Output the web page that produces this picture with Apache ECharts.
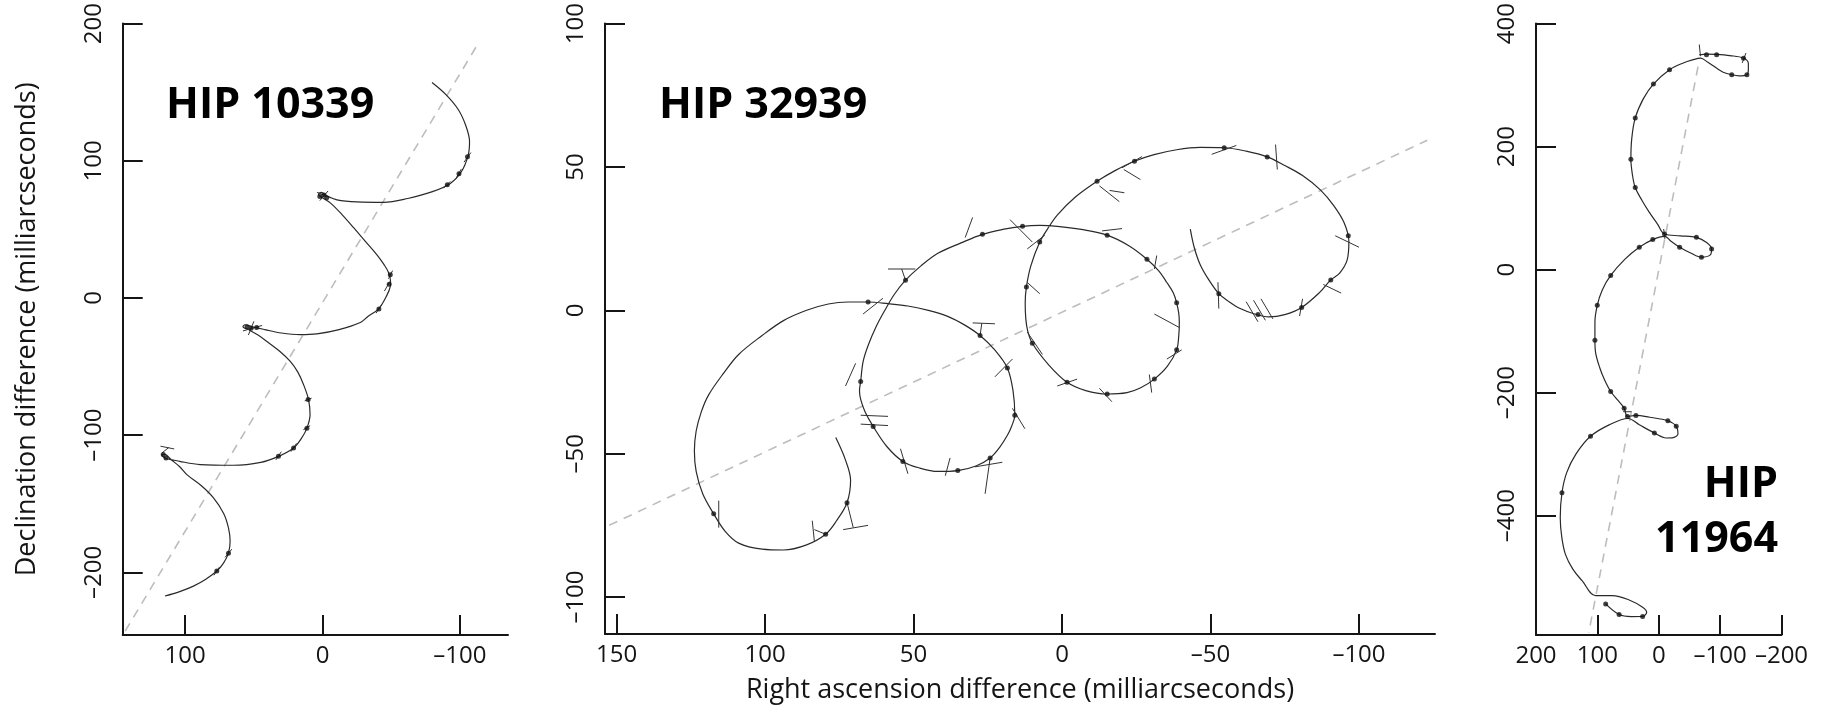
<!DOCTYPE html>
<html>
<head>
<meta charset="utf-8">
<script src="https://cdn.jsdelivr.net/npm/echarts@6/dist/echarts.min.js"></script>
<style>
html,body{margin:0;padding:0;background:#fff;}
#chart{width:1830px;height:709px;}
</style>
</head>
<body>
<div id="chart"></div>
<script>
// ---------- DATA (milliarcseconds: [RA difference, Dec difference]) ----------
const titles = ['HIP 10339', 'HIP 32939', 'HIP', '11964'];
const xAxisTitle = 'Right ascension difference (milliarcseconds)';
const yAxisTitle = 'Declination difference (milliarcseconds)';

const ticksX1 = [100, 0, -100];
const ticksY1 = [-200, -100, 0, 100, 200];
const ticksX2 = [150, 100, 50, 0, -50, -100];
const ticksY2 = [-100, -50, 0, 50, 100];
const ticksX3 = [200, 100, 0, -100, -200];
const ticksY3 = [-400, -200, 0, 200, 400];

// HIP 10339
const path1 = [
  [-79.7,157],[-90,148],[-99,137],[-104.5,125],[-107,114],[-106,104],[-101,92],[-93,83.5],[-80,77.5],
  [-62,72.5],[-44.5,69.7],[-25,70],[-10.5,71.5],[-3,74.5],[1,77],[3,75.5],[0,73],[-6,69],[-14,61],
  [-22.6,51.3],[-31,41.5],[-39.6,31.5],[-45,24],[-48.1,18.4],[-49.5,12],[-49.3,8.5],[-46.8,1.9],
  [-40.8,-7.9],[-33,-13.5],[-27.5,-17.8],[-12,-23],[4.1,-26.1],[16.3,-26.7],[30,-25.5],[42,-23],
  [51,-21],[56.5,-19.5],[58,-21],[54,-23],[47,-27],[40.5,-31.7],[31,-39],[23.5,-46.2],[18,-54],
  [13.8,-63.2],[10.2,-74.1],[9.1,-85],[11.4,-94.8],[15.5,-102.5],[21.1,-109.3],[32.1,-115.4],
  [45,-119.8],[64.9,-121.9],[89.1,-121.4],[104,-119],[114.7,-116.6],[117,-114.5],[115,-114],
  [110,-118],[104,-123],[98.8,-128.7],[88,-137],[79.4,-145.7],[72,-157],[68.5,-167.5],[67.3,-177.2],
  [68.5,-185.7],[72,-193],[77,-199],[85,-205],[94,-210],[104,-214],[114.7,-217.2]
];
const marks1 = [
  [-105.5,103],[-99.3,90.5],[-90.8,82.5],[-1,75],[2,74],[-3,73],[-49.3,17],[-48.5,10],[-41,-8],
  [55,-21],[52,-22],[48,-21.5],[10.5,-74],[11.4,-95],[21.1,-109.3],[32.1,-115.4],[114,-116.6],
  [116,-114],[68.5,-186],[77,-199]
];
const bars1 = [
  [-103,99,-108,106],[-97,87,-101,94],[-88,80,-93,85],[-48,14,-51,20],[-45,5,-49,12],[-39,-11,-43,-5],
  [112,-109,117,-113],[108,-110,118,-108],[66,-183,71,-189],[75,-196,79,-202],[8,-73,13,-75],
  [9,-93,14,-96],[19,-106,23,-112],[30,-112,34,-118],[-6,73,4,77],[-4,78,2,71],[44,-20,58,-24],[50,-17,54,-27]
];
const trend1 = [[143.7,-242.7],[-113.6,186]];

// HIP 32939
const path2 = [
  [76.2,-44.4],[73,-52],[71.2,-59.3],[72.4,-67.1],[76,-73.5],[79.6,-78.1],[86,-81.8],[93.8,-83.6],
  [101,-83.3],[108.9,-81.2],[113.5,-77],[117.3,-71],[121,-64],[123.2,-56.2],[123.8,-49],[123.2,-42.1],
  [121.5,-35.5],[119,-29.5],[114,-22],[108.9,-15.4],[101,-8.8],[93.8,-3.6],[86,0],[78.7,2.2],[72,2.9],
  [65.3,2.9],[58.5,2.3],[51.9,1.5],[45,0],[38.5,-2.1],[33,-5],[27.6,-8.8],[22.5,-14],[18.4,-20.1],
  [16.5,-28],[15.9,-36.6],[17,-40.5],[18.4,-43.6],[21,-47.8],[24.2,-51.5],[29,-54.3],[35.1,-55.9],
  [41.8,-56.2],[48,-55],[53.6,-52.7],[59,-47.5],[63.6,-40.5],[66.3,-35.5],[67.8,-31.1],[68.2,-28],
  [67.8,-24.8],[67,-18],[65.3,-12.3],[62.5,-5.5],[59.5,0.3],[56.5,5.5],[52.7,10.5],[47.5,15.5],
  [41.8,19.9],[34,23.5],[26.8,26.5],[20,28.2],[13.3,29.3],[7.5,29.6],[1.6,29.3],[-6.5,28.2],
  [-15.2,26.2],[-22.5,22.5],[-28.6,17.8],[-32.5,13.8],[-35.3,9.7],[-37.5,6],[-38.6,2.6],[-39.3,-1],
  [-39.5,-4.4],[-39.3,-9],[-38.6,-13.8],[-35.5,-19.5],[-31.1,-24],[-26.5,-27],[-21.9,-28.7],
  [-15.2,-29.2],[-8,-28],[-1.7,-25.1],[4.5,-19],[10,-11.5],[11.6,-7],[12.2,-2.9],[12.4,2.5],[12,8.1],
  [10.5,15.5],[7.5,23.8],[4.8,28.5],[1.6,33.2],[-4.5,39.5],[-11.8,45],[-18,48.8],[-24.4,52],
  [-31,54.3],[-38.6,56],[-46.5,56.8],[-54.6,56.7],[-62,55.5],[-69.1,53.5],[-75,50.5],[-81,47],
  [-87,42],[-91.5,36.5],[-95,30.5],[-96.6,24],[-96,17.5],[-93.5,13],[-90.5,10.6],[-87,6.5],
  [-80.7,1],[-75,-1.5],[-69.6,-2.3],[-64.6,-1.2],[-60,0.6],[-56,3.2],[-52.8,5.8],[-49.5,10.5],
  [-46.5,16],[-44.5,22],[-43.2,28.3]
];
const marks2 = [
  [72.4,-67.1],[79.6,-78.1],[117.3,-71],[65.3,2.9],[27.6,-8.8],[18.4,-20.1],[15.9,-36.6],[24.2,-51.5],
  [35.1,-55.9],[53.6,-52.7],[63.6,-40.5],[67.8,-24.8],[52.7,10.5],[26.8,26.5],[13.3,29.3],[-15.2,26.2],
  [-28.6,17.8],[-38.6,2.6],[-38.6,-13.8],[-31.1,-24],[-15.2,-29.2],[-1.7,-25.1],[10,-11.5],[12,8.1],
  [7.5,23.8],[-11.8,45],[-24.4,52],[-54.6,56.7],[-69.1,53.5],[-96.4,26],[-90.5,10.6],[-80.7,1],
  [-66,-1.5],[-52.8,5.8]
];
const bars2 = [
  [72.4,-67.1,70.3,-75.8],[73.7,-76.5,65.3,-75],[84.1,-73.4,83.4,-80.5],[83.4,-76.5,79.6,-78.1],
  [115.6,-66.4,115.6,-75.8],[67,-1.3,60.3,4.2],[30.1,-4.4,22.6,-4.7],[27.6,-8.8,27,-4.5],
  [22.6,-23.2,16.7,-17],[16.7,-34.2,12.5,-41.3],[29.3,-54.6,20.1,-53],[24.2,-51.5,25.9,-64],
  [39.3,-57.7,37.7,-51.5],[54.4,-48.3,51.9,-57],[67.8,-36.6,58.6,-37],[67.8,-39.7,58.6,-40.2],
  [72.9,-26.4,69.5,-18.5],[58.6,14.4,49.4,14.4],[52.7,10.5,54,14.4],[32.6,25.4,30.1,32.4],
  [17.5,31.6,10,23.8],[-13.5,27.7,-20.2,28.5],[-31.9,19.1,-31.1,14.4],[-31.1,-1.3,-39.5,-6],
  [-35.3,-17,-40.3,-13.8],[-29.4,-22.4,-30.2,-28.7],[-12.6,-27.2,-16.8,-31.9],[1.6,-26.4,-5.1,-24],
  [11.7,-7.6,6.6,-15.4],[11.7,9.7,7.5,5.8],[11.7,21.4,5.8,26.2],[-12.6,43.4,-19.3,37.9],
  [-16,41.8,-21,41],[-20.2,49.7,-26.9,53.6],[-20.8,49.1,-26.4,45.6],[-50.4,54.4,-58.7,57.5],
  [-71.9,57.8,-72.5,49.1],[-52.5,9.8,-52.8,0.6],[-62,3,-66,-4],[-64.5,3.5,-68.5,-3.5],
  [-67,4,-71,-3],[-92,26,-100,22],[-88,9,-94,6],[-80,-2,-81,4]
];
const trend2 = [[152.5,-75],[-123,59.3]];

// HIP 11964
const path3 = [
  [-66,349],[-78,350.5],[-94,350],[-116,348],[-138,344],[-146,335],[-146,325],[-143.6,317],[-131,315],
  [-119,316.8],[-105,321],[-94,327.6],[-80,337],[-68,344],[-55,341],[-40,336],[-17.6,325],[8.7,301.7],
  [25,278],[38.3,246.7],[44,213],[45.4,179.3],[43,155],[38.3,133.4],[27,112],[15.3,93],[2,74],
  [-9.4,57.9],[-35,55],[-61.4,52.5],[-78,44],[-86.1,33.6],[-84,24],[-69.6,20.2],[-52,27],[-34,36.3],
  [-20,46],[-10,54],[9.8,48.8],[31.7,36.3],[55,17],[78.3,-9.5],[92,-33],[100.2,-58.1],[104,-86],
  [104,-114.7],[102.9,-135],[96,-160],[88,-180],[78.3,-198.2],[66,-213],[56.4,-225.2],[50.9,-238.7],
  [37.2,-237],[15,-240],[-14.8,-245.7],[-28.5,-254.8],[-31.3,-267.3],[-22,-273.5],[-12.1,-273.7],
  [7.1,-265.6],[31.7,-252.2],[50,-242],[80,-252],[111.2,-271],[135,-300],[150,-330],[157.7,-362.7],
  [160.5,-403.2],[158,-435],[152.2,-462.5],[140,-487],[124.9,-505.7],[102.9,-530],[75.5,-530],
  [48.2,-537],[26.3,-548.8],[19.7,-556.9],[26.3,-563.9],[45,-564],[64.6,-560.7],[86.5,-543.4]
];
const marks3 = [
  [-77.8,349.2],[-94.3,349.2],[-138.1,343.8],[-143.6,316.8],[-118.9,316.8],[-17.6,324.9],[8.7,301.7],
  [38.3,246.7],[45.4,179.3],[38.3,133.4],[-9.4,57.9],[-61.4,52.5],[-86.1,33.6],[-69.6,20.2],[-34,36.3],
  [9.8,48.8],[31.7,36.3],[78.3,-9.5],[100.2,-58.1],[104,-114.7],[78.3,-198.2],[56.4,-225.2],
  [50.9,-238.7],[37.2,-237],[-14.8,-245.7],[-28.5,-254.8],[7.1,-265.6],[111.2,-271],[157.7,-362.7],
  [86.5,-543.4],[64.6,-560.7],[26.3,-563.9]
];
const bars3 = [[-66,366,-68,347],[-136,336,-142,352],[-10,50,-8,66],[58,-231,44,-231]];
const trend3 = [[-64,330],[114,-590]];

// ---------- CHART ----------
const FONT = '"Open Sans", "Noto Sans", sans-serif';
const INK = '#151515';
const fmt = v => (v < 0 ? '\u2013' + Math.abs(v) : String(v));

function xAx(idx, min, max, ticks, extra) {
  return Object.assign({
    gridIndex: idx, type: 'value', inverse: true, min: min, max: max,
    axisLine: {show: true, onZero: false, lineStyle: {color: INK, width: 2}},
    axisTick: {show: true, inside: true, length: 20, customValues: ticks, lineStyle: {color: INK, width: 2}},
    axisLabel: {customValues: ticks, formatter: fmt, fontFamily: FONT, fontSize: 24, color: INK, margin: 9},
    splitLine: {show: false}
  }, extra || {});
}
function yAx(idx, min, max, ticks, extra) {
  return Object.assign({
    gridIndex: idx, type: 'value', min: min, max: max,
    axisLine: {show: true, onZero: false, lineStyle: {color: INK, width: 2}},
    axisTick: {show: true, inside: true, length: 20, customValues: ticks, lineStyle: {color: INK, width: 2}},
    axisLabel: {customValues: ticks, formatter: fmt, fontFamily: FONT, fontSize: 24, color: INK, margin: 17, rotate: 90},
    splitLine: {show: false}
  }, extra || {});
}

function curve(i, d) {
  return {type: 'line', xAxisIndex: i, yAxisIndex: i, data: d, smooth: 0.35, symbol: 'none',
    lineStyle: {color: '#2a2a2a', width: 1.2}, z: 3, silent: true};
}
function trend(i, d) {
  return {type: 'line', xAxisIndex: i, yAxisIndex: i, data: d, symbol: 'none',
    lineStyle: {color: '#bdbdbd', width: 1.6, type: [9, 7]}, z: 1, silent: true};
}
function dots(i, d) {
  return {type: 'scatter', xAxisIndex: i, yAxisIndex: i, data: d, symbolSize: 5,
    itemStyle: {color: '#111'}, z: 5, silent: true};
}
function bars(i, d) {
  return {type: 'custom', xAxisIndex: i, yAxisIndex: i, data: d, z: 4, silent: true,
    encode: {x: [0, 2], y: [1, 3]},
    renderItem: function (params, api) {
      const a = api.coord([api.value(0), api.value(1)]);
      const b = api.coord([api.value(2), api.value(3)]);
      return {type: 'line', shape: {x1: a[0], y1: a[1], x2: b[0], y2: b[1]},
        style: {stroke: '#333', lineWidth: 1}};
    }};
}

const titleFont = 'bold 43px ' + FONT;
const chart = echarts.init(document.getElementById('chart'), null, {renderer: 'canvas'});
chart.setOption({
  backgroundColor: '#ffffff',
  animation: false,
  grid: [
    {left: 122.7, top: 21.7, width: 385.3, height: 613.3},
    {left: 605, top: 20, width: 830, height: 614},
    {left: 1536, top: 20.5, width: 245.5, height: 614.5}
  ],
  xAxis: [
    xAx(0, -135, 145.5, ticksX1),
    xAx(1, -125.6, 153.9, ticksX2, {name: xAxisTitle, nameLocation: 'middle', nameGap: 43,
      nameTextStyle: {fontFamily: FONT, fontSize: 27, color: INK}}),
    xAx(2, -200, 200, ticksX3)
  ],
  yAxis: [
    yAx(0, -245.6, 200, ticksY1, {name: yAxisTitle, nameLocation: 'middle', nameGap: 82,
      nameTextStyle: {fontFamily: FONT, fontSize: 27, color: INK}}),
    yAx(1, -112.9, 100, ticksY2),
    yAx(2, -594, 400, ticksY3)
  ],
  graphic: [
    {type: 'text', left: 166, top: 84, style: {text: titles[0], font: titleFont, fill: '#000'}},
    {type: 'text', left: 659, top: 84, style: {text: titles[1], font: titleFont, fill: '#000'}},
    {type: 'text', right: 52, top: 463, style: {text: titles[2], font: titleFont, fill: '#000'}},
    {type: 'text', right: 52, top: 518, style: {text: titles[3], font: titleFont, fill: '#000'}}
  ],
  series: [
    trend(0, trend1), curve(0, path1), bars(0, bars1), dots(0, marks1),
    trend(1, trend2), curve(1, path2), bars(1, bars2), dots(1, marks2),
    trend(2, trend3), curve(2, path3), bars(2, bars3), dots(2, marks3)
  ]
});
</script>
</body>
</html>
